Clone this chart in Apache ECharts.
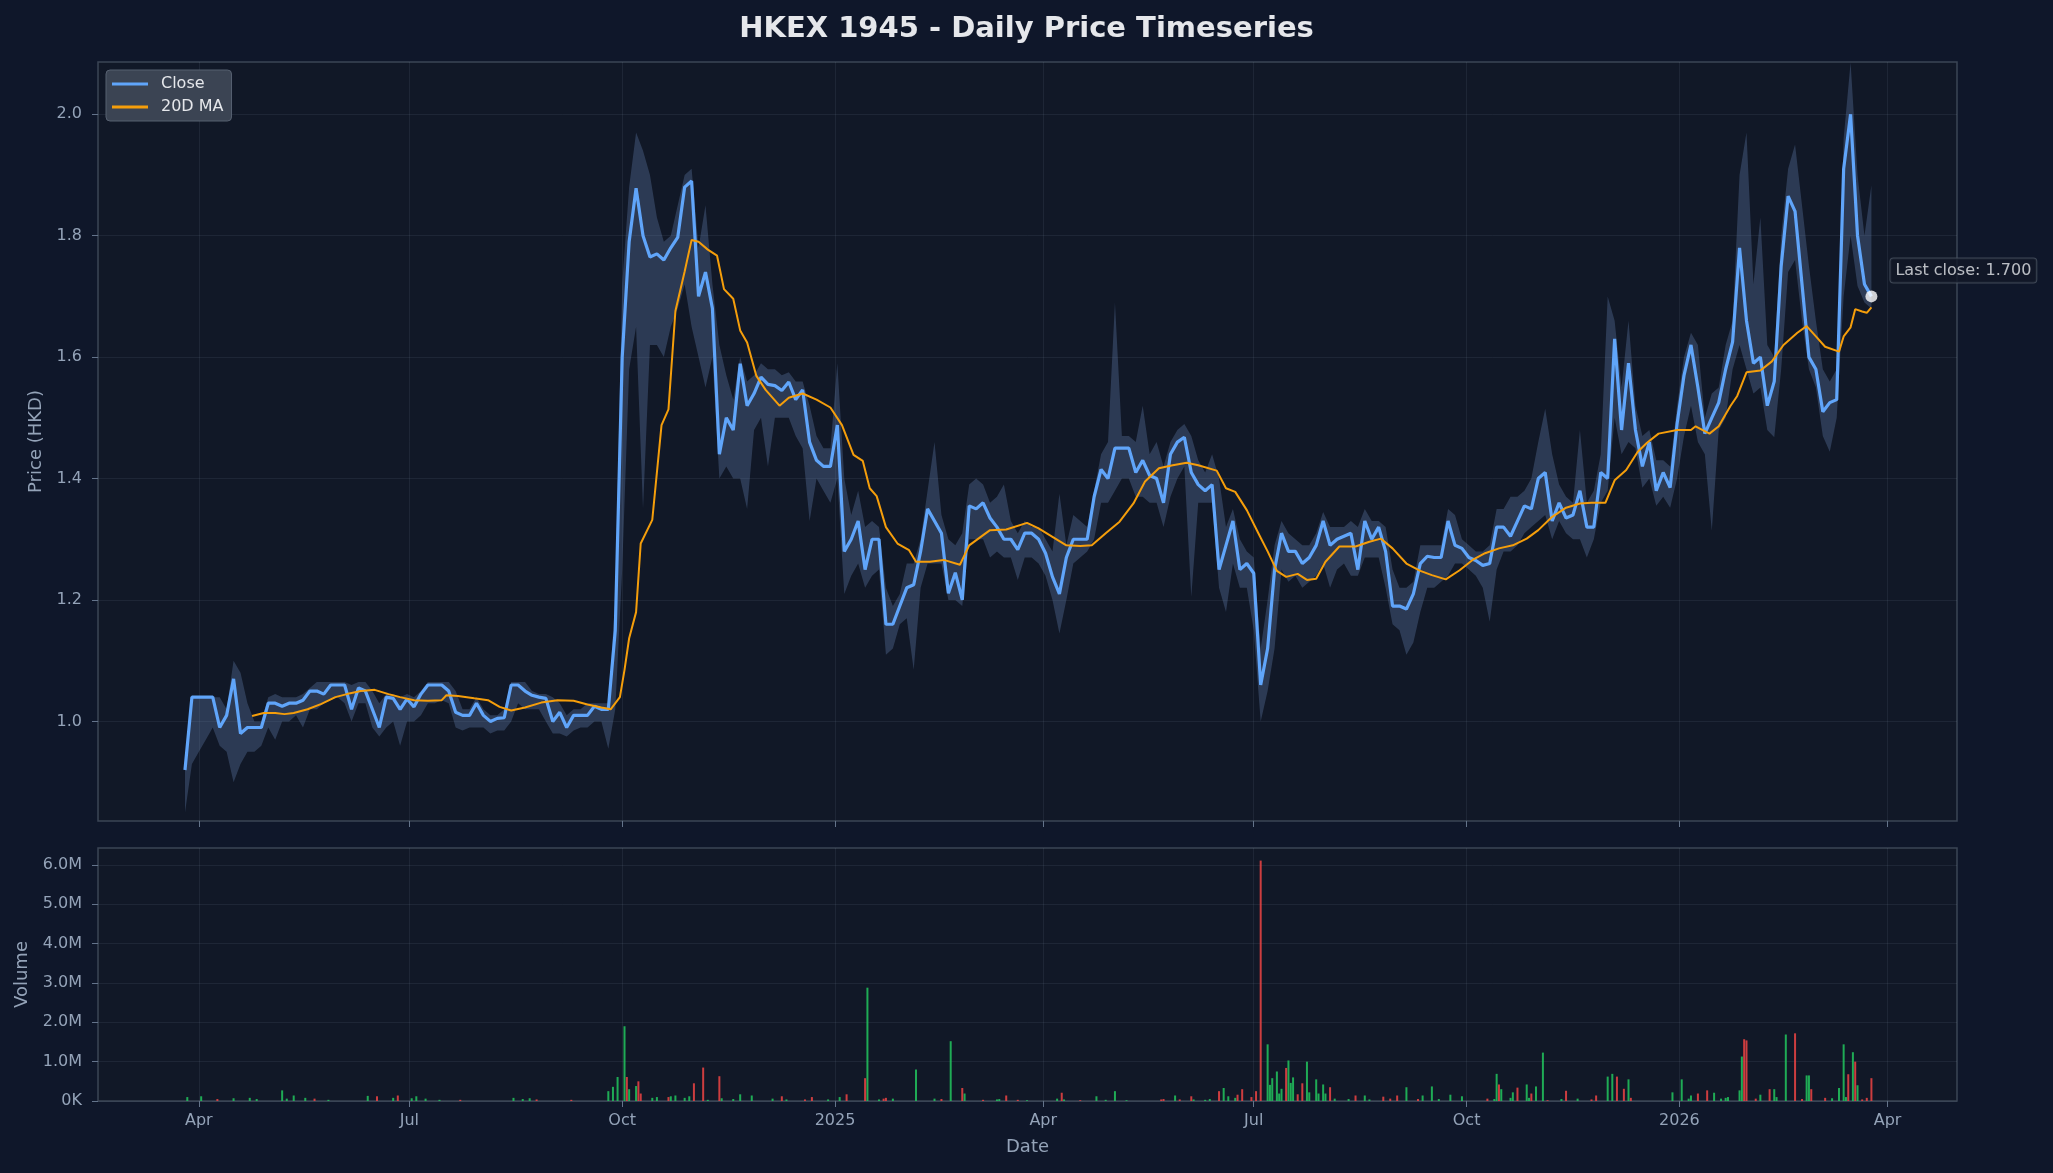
<!DOCTYPE html>
<html>
<head>
<meta charset="utf-8">
<script src="https://cdn.jsdelivr.net/npm/echarts@6/dist/echarts.min.js"></script>
<style>
html,body{margin:0;padding:0;background:#0f172a;}
#chart{width:2053px;height:1173px;}
</style>
</head>
<body>
<div id="chart"></div>
<script>
// ---------- DATA ----------
// Day offsets are counted from 2024-03-25; price samples every 3 days from day 1.
const closeVals = [
 0.92,1.04,1.04,1.04,1.04,0.99,1.01,1.07,0.98,0.99,
 0.99,0.99,1.03,1.03,1.025,1.03,1.03,1.035,1.05,1.05,
 1.045,1.06,1.06,1.06,1.02,1.055,1.05,1.02,0.99,1.04,
 1.038,1.02,1.037,1.024,1.045,1.06,1.06,1.06,1.05,1.015,
 1.01,1.01,1.03,1.01,1.00,1.005,1.006,1.06,1.06,1.05,
 1.043,1.04,1.038,1.00,1.015,0.99,1.01,1.01,1.01,1.025,
 1.02,1.02,1.15,1.60,1.79,1.878,1.80,1.765,1.77,1.76,
 1.78,1.797,1.88,1.89,1.70,1.74,1.68,1.44,1.50,1.48,
 1.589,1.52,1.54,1.567,1.555,1.553,1.545,1.559,1.53,1.546,
 1.46,1.43,1.42,1.42,1.488,1.28,1.30,1.33,1.25,1.30,
 1.30,1.16,1.16,1.19,1.22,1.225,1.28,1.35,1.33,1.31,
 1.211,1.245,1.20,1.355,1.35,1.36,1.335,1.32,1.30,1.30,
 1.283,1.31,1.31,1.30,1.277,1.238,1.21,1.27,1.30,1.30,
 1.30,1.37,1.415,1.40,1.45,1.45,1.45,1.41,1.43,1.405,
 1.40,1.36,1.44,1.46,1.468,1.41,1.39,1.38,1.39,1.25,
 1.29,1.33,1.25,1.26,1.244,1.06,1.12,1.25,1.31,1.28,
 1.28,1.26,1.27,1.29,1.33,1.29,1.30,1.305,1.31,1.25,
 1.33,1.30,1.32,1.28,1.19,1.19,1.185,1.21,1.26,1.272,
 1.27,1.27,1.33,1.29,1.285,1.27,1.265,1.257,1.26,1.32,
 1.32,1.305,1.33,1.355,1.35,1.40,1.41,1.33,1.36,1.335,
 1.34,1.38,1.32,1.32,1.41,1.40,1.63,1.48,1.59,1.48,
 1.42,1.46,1.38,1.41,1.385,1.49,1.57,1.62,1.55,1.474,
 1.50,1.525,1.58,1.625,1.78,1.66,1.59,1.60,1.52,1.56,
 1.75,1.865,1.84,1.72,1.60,1.58,1.51,1.525,1.53,1.91,
 2.00,1.80,1.72,1.70
];
const lowVals = [
 0.85,0.93,0.95,0.97,0.99,0.96,0.95,0.90,0.93,0.95,
 0.95,0.96,0.99,0.97,1.00,1.00,1.01,0.99,1.02,1.02,
 1.03,1.035,1.04,1.03,1.00,1.03,1.03,0.99,0.975,0.99,
 1.00,0.96,1.00,1.00,1.01,1.03,1.03,1.035,1.03,0.99,
 0.985,0.99,0.99,0.99,0.98,0.985,0.985,1.00,1.03,1.02,
 1.02,1.02,1.00,0.98,0.98,0.975,0.985,0.99,0.99,1.00,
 1.00,0.955,1.02,1.25,1.58,1.65,1.35,1.62,1.62,1.60,
 1.65,1.68,1.72,1.65,1.60,1.55,1.60,1.40,1.42,1.40,
 1.40,1.35,1.48,1.50,1.42,1.50,1.50,1.50,1.47,1.45,
 1.33,1.40,1.38,1.36,1.40,1.21,1.24,1.26,1.22,1.24,
 1.25,1.11,1.12,1.16,1.17,1.085,1.22,1.26,1.26,1.26,
 1.20,1.20,1.19,1.30,1.30,1.30,1.27,1.28,1.27,1.27,
 1.233,1.27,1.27,1.26,1.24,1.20,1.145,1.20,1.26,1.27,
 1.28,1.30,1.36,1.36,1.38,1.40,1.40,1.37,1.37,1.36,
 1.36,1.32,1.37,1.40,1.42,1.205,1.36,1.36,1.36,1.22,
 1.18,1.26,1.22,1.22,1.15,1.00,1.05,1.12,1.25,1.23,
 1.24,1.22,1.23,1.24,1.26,1.22,1.25,1.26,1.24,1.24,
 1.27,1.27,1.27,1.22,1.16,1.15,1.11,1.13,1.18,1.22,
 1.22,1.23,1.24,1.26,1.26,1.25,1.24,1.22,1.164,1.25,
 1.28,1.28,1.29,1.31,1.32,1.33,1.34,1.30,1.33,1.31,
 1.30,1.30,1.27,1.30,1.36,1.38,1.50,1.44,1.46,1.45,
 1.385,1.40,1.355,1.37,1.352,1.40,1.47,1.52,1.46,1.44,
 1.314,1.48,1.50,1.58,1.62,1.58,1.54,1.55,1.48,1.468,
 1.58,1.74,1.76,1.66,1.58,1.55,1.47,1.444,1.50,1.70,
 1.80,1.717,1.69,1.68
];
const highVals = [
 0.93,1.04,1.04,1.04,1.04,1.04,1.02,1.10,1.08,1.03,
 1.00,1.00,1.04,1.045,1.04,1.04,1.04,1.045,1.055,1.065,
 1.065,1.065,1.065,1.065,1.06,1.065,1.065,1.05,1.03,1.045,
 1.045,1.04,1.045,1.04,1.05,1.065,1.065,1.065,1.065,1.05,
 1.02,1.02,1.04,1.02,1.01,1.01,1.02,1.065,1.065,1.065,
 1.05,1.045,1.045,1.04,1.03,1.01,1.02,1.02,1.03,1.03,
 1.03,1.03,1.20,1.72,1.88,1.97,1.94,1.90,1.83,1.79,
 1.80,1.85,1.90,1.91,1.78,1.85,1.72,1.62,1.57,1.53,
 1.60,1.56,1.57,1.59,1.58,1.58,1.57,1.575,1.56,1.56,
 1.52,1.47,1.45,1.45,1.59,1.40,1.34,1.38,1.32,1.33,
 1.32,1.22,1.19,1.21,1.26,1.26,1.30,1.38,1.46,1.34,
 1.30,1.29,1.31,1.39,1.40,1.39,1.36,1.37,1.39,1.33,
 1.31,1.33,1.32,1.32,1.30,1.28,1.375,1.29,1.34,1.33,
 1.32,1.38,1.44,1.46,1.69,1.47,1.47,1.46,1.52,1.44,
 1.46,1.42,1.46,1.48,1.49,1.47,1.43,1.41,1.44,1.40,
 1.32,1.35,1.30,1.28,1.27,1.12,1.20,1.29,1.33,1.31,
 1.30,1.29,1.29,1.31,1.345,1.32,1.32,1.32,1.33,1.32,
 1.35,1.33,1.33,1.32,1.25,1.22,1.22,1.23,1.29,1.29,
 1.29,1.29,1.35,1.34,1.30,1.29,1.28,1.28,1.29,1.35,
 1.35,1.37,1.37,1.38,1.40,1.46,1.515,1.44,1.39,1.37,
 1.36,1.48,1.36,1.38,1.44,1.70,1.66,1.55,1.66,1.52,
 1.47,1.48,1.43,1.43,1.42,1.52,1.60,1.64,1.62,1.50,
 1.54,1.55,1.62,1.66,1.90,1.97,1.72,1.83,1.62,1.60,
 1.80,1.91,1.95,1.85,1.75,1.66,1.58,1.56,1.58,1.96,
 2.085,1.90,1.80,1.883
];
// 20-day moving average
const maDays = [30,35,40,44,48,54,60,66,71,77,83,89,94,100,106,112,114,119,126,132,
 137,142,148,155,162,169,175,181,185,189,191,193,196,198,203,207,210,213,217,220,
 223,227,231,234,238,241,244,248,252,258,262,268,274,280,285,290,294,297,300,304,
 309,314,317,323,329,336,340,345,349,356,365,370,376,382,388,393,399,405,411,416,
 422,428,434,439,447,451,455,460,465,469,473,477,482,486,490,494,500,507,513,518,
 523,529,535,540,546,552,558,563,569,575,581,586,592,598,604,609,615,619,624,629,
 633,638,646,652,654,660,664,669,672,676,682,687,692,698,702,706,710,716,718,721,
 723,726,728,730];
const maVals = [1.009,1.014,1.014,1.012,1.014,1.02,1.029,1.04,1.045,1.05,
 1.052,1.045,1.04,1.035,1.034,1.035,1.043,1.042,1.038,1.035,
 1.024,1.018,1.023,1.031,1.035,1.034,1.028,1.023,1.02,1.04,
 1.085,1.137,1.18,1.293,1.332,1.488,1.514,1.676,1.741,1.793,
 1.79,1.777,1.767,1.712,1.696,1.644,1.624,1.569,1.546,1.52,
 1.533,1.54,1.53,1.517,1.488,1.439,1.429,1.384,1.371,1.32,
 1.293,1.282,1.263,1.263,1.266,1.258,1.29,1.304,1.315,1.316,
 1.327,1.318,1.304,1.29,1.289,1.29,1.31,1.329,1.359,1.395,
 1.417,1.422,1.426,1.422,1.413,1.384,1.378,1.348,1.31,1.28,
 1.248,1.238,1.243,1.233,1.235,1.263,1.288,1.288,1.296,1.301,
 1.285,1.26,1.248,1.241,1.234,1.249,1.267,1.277,1.285,1.29,
 1.301,1.315,1.337,1.352,1.359,1.36,1.36,1.397,1.414,1.444,
 1.459,1.474,1.48,1.48,1.486,1.474,1.486,1.519,1.536,1.575,
 1.578,1.593,1.62,1.64,1.651,1.634,1.617,1.609,1.634,1.649,
 1.679,1.675,1.673,1.682];
// Volume (millions of shares) on visible bars; up=1 green, 0 red
const volDays = [2,8,15,22,29,32,43,45,48,53, 57,63,80,84,91,93,99,101,105,111,
 120,143,147,150,153,168,184,186,188,191, 192,193,196,197,198,203,205,210,211,213,
 217,219,221,225,227,232,233,238,241,246, 255,259,261,269,272,279,284,287,295,296,
 301,303,304,307,317,325,328,332,337,338, 346,352,
 353,356,361,365,378,380,381,388,395,399, 403,408,423,424,429,431,436,437,442,444,
 448,450,452,455,456,458,462,464,466,469, 470,471,473,474,475,477,478,479,480,482,
 484,486,487,490,491,493,494,496,498,504, 507,511,513,519,522,525,529,534,536,540,
 543,548,553,564,567,568,569,570,574,575, 577,581,582,583,585,588,590,596,598,603,
 609,611,616,618,620,623,625,626,644,648, 651,652,655,659,662,665,667,668,673,674,
 675,676,680,682,686,688,689,693,697,700, 702,703,704,710,713,716,718,719,720,722,
 723,724,726,728,730];
const volM = [.10,.12,.05,.07,.08,.05,.27,.06,.14,.08, .06,.03,.13,.12,.08,.14,.07,.12,.06,.03,
 .03,.08,.05,.07,.04,.03,.25,.36,.61,1.90, .61,.30,.38,.50,.19,.08,.10,.10,.12,.14,
 .08,.12,.45,.85,.03,.63,.07,.05,.17,.14, .06,.12,.04,.04,.10,.04,.10,.17,.58,2.88,
 .04,.06,.08,.06,.80,.06,.05,1.52,.33,.19, .03,.04,
 .05,.14,.03,.02,.06,.21,.04,.02,.12,.03, .25,.02,.04,.05,.14,.04,.12,.04,.03,.05,
 .25,.33,.12,.08,.16,.30,.10,.25,6.11,1.44, .41,.58,.75,.19,.31,.84,1.03,.46,.60,.17,
 .45,1.00,.22,.55,.19,.42,.19,.35,.06,.05, .14,.14,.04,.11,.06,.14,.35,.05,.14,.37,
 .05,.16,.12,.06,.05,.69,.42,.30,.08,.22, .34,.42,.08,.19,.37,1.23,.02,.05,.26,.06,
 .04,.14,.62,.69,.62,.31,.55,.08,.22,.55, .06,.14,.19,.27,.21,.06,.08,.10,.27,1.13,
 1.57,1.54,.06,.16,.30,.30,.10,1.69,1.72,.05, .65,.65,.30,.08,.07,.33,1.44,.10,.68,1.24,
 1.00,.40,.04,.08,.58];
const volUp = [1,1,0,1,1,1,1,1,1,1, 0,1,1,0,1,0,1,1,1,1,
 0,1,1,1,0,0,1,1,1,1, 0,1,1,0,0,1,1,0,1,1,
 1,1,0,0,1,0,1,1,1,1, 1,0,1,0,0,1,1,0,0,1,
 1,0,0,1,1,1,0,1,0,1, 0,1,
 1,0,0,1,1,0,1,0,1,1, 1,1,0,0,1,0,0,1,1,1,
 0,1,1,1,0,0,0,0,0,1, 1,1,1,1,1,0,1,1,1,0,
 0,1,1,1,1,1,1,0,1,1, 0,1,1,0,0,0,1,0,1,1,
 1,1,1,0,1,1,0,1,1,1, 0,1,1,0,1,1,0,1,0,1,
 0,0,1,1,0,0,1,0,1,1, 1,1,0,0,1,1,1,1,1,1,
 0,0,0,1,0,1,1,1,0,0, 1,1,0,0,1,1,1,1,0,1,
 0,1,0,0,0];
const tickDates = ['2024-04-01','2024-07-01','2024-10-01','2025-01-01','2025-04-01','2025-07-01','2025-10-01','2026-01-01','2026-04-01'];
const tickLabels = ['Apr','Jul','Oct','2025','Apr','Jul','Oct','2026','Apr'];
const priceTicks = [1.0,1.2,1.4,1.6,1.8,2.0];
const volTicks = [0,1,2,3,4,5,6];
const volTickLabels = ['0K','1.0M','2.0M','3.0M','4.0M','5.0M','6.0M'];

// ---------- helpers ----------
const DAY = 86400000;
const START = new Date(2024, 2, 25).getTime();
const dt = d => START + d * DAY;
const closeDays = closeVals.map((_, i) => 1 + 3 * i);
const tickTimes = tickDates.map(s => { const p = s.split('-').map(Number); return new Date(p[0], p[1]-1, p[2]).getTime(); });
const xLabel = v => { for (let k = 0; k < tickTimes.length; k++) if (Math.abs(tickTimes[k] - v) < DAY) return tickLabels[k]; return ''; };

const closeData = closeVals.map((v, i) => [dt(closeDays[i]), v]);
const bandData = closeDays.map((d, i) => [dt(d), lowVals[i], highVals[i]]);
const maData = maVals.map((v, k) => [dt(maDays[k]), v]);
const upData = [], downData = [];
volDays.forEach((d, k) => (volUp[k] ? upData : downData).push([dt(d), volM[k]]));
const lastIdx = closeVals.length - 1;

const FONT = 'DejaVu Sans';
const TXT = '#94a3b8';
const GRIDC = 'rgba(148,163,184,0.10)';
const xMin = dt(-36.6), xMax = dt(767);

function renderBand(params, api) {
  if (params.dataIndex !== 0) return {type: 'group', children: []};
  const pts = [];
  for (let i = 0; i < bandData.length; i++) pts.push(api.coord([bandData[i][0], bandData[i][2]]));
  for (let i = bandData.length - 1; i >= 0; i--) pts.push(api.coord([bandData[i][0], bandData[i][1]]));
  return {type: 'polygon', shape: {points: pts}, style: {fill: 'rgba(110,140,190,0.30)', stroke: 'none'}};
}

const chart = echarts.init(document.getElementById('chart'), null, {renderer: 'canvas'});
chart.setOption({
  animation: false,
  backgroundColor: '#0f172a',
  textStyle: {fontFamily: FONT},
  title: {
    text: 'HKEX 1945 - Daily Price Timeseries', left: 'center', top: 15, padding: 0,
    textStyle: {color: '#e5e7eb', fontSize: 29, fontWeight: 'bold', fontFamily: FONT}
  },
  legend: {
    data: ['Close', '20D MA'], orient: 'vertical', left: 106, top: 70,
    backgroundColor: '#3b4453', borderColor: '#566070', borderWidth: 1, borderRadius: 4,
    padding: [6, 8, 6, 6], itemGap: 7, itemWidth: 36, itemHeight: 3, icon: 'rect',
    textStyle: {color: '#e5e7eb', fontSize: 16, fontFamily: FONT, padding: [0, 0, 0, 8]}
  },
  grid: [
    {left: 98, top: 62, width: 1859, height: 759, show: true, backgroundColor: '#111827', borderColor: '#3b4556', borderWidth: 1.5},
    {left: 98, top: 848, width: 1859, height: 253, show: true, backgroundColor: '#111827', borderColor: '#3b4556', borderWidth: 1.5}
  ],
  xAxis: [
    {type: 'value', gridIndex: 0, min: xMin, max: xMax, scale: true,
     axisLine: {show: false},
     axisTick: {show: true, length: 6, lineStyle: {color: '#64748b'}, customValues: tickTimes},
     axisLabel: {show: false, customValues: tickTimes},
     splitLine: {show: true, lineStyle: {color: GRIDC, width: 1}}},
    {type: 'value', gridIndex: 1, min: xMin, max: xMax, scale: true,
     axisLine: {show: false},
     axisTick: {show: true, length: 6, lineStyle: {color: '#64748b'}, customValues: tickTimes},
     axisLabel: {show: true, customValues: tickTimes, formatter: xLabel, color: TXT, fontSize: 16, fontFamily: FONT, margin: 12},
     splitLine: {show: true, lineStyle: {color: GRIDC, width: 1}},
     name: 'Date', nameLocation: 'middle', nameGap: 37,
     nameTextStyle: {color: TXT, fontSize: 18, fontFamily: FONT}}
  ],
  yAxis: [
    {type: 'value', gridIndex: 0, min: 0.836, max: 2.086,
     axisLine: {show: false},
     axisTick: {show: true, length: 6, lineStyle: {color: '#64748b'}, customValues: priceTicks},
     axisLabel: {customValues: priceTicks, formatter: v => v.toFixed(1), color: TXT, fontSize: 16, fontFamily: FONT, margin: 16},
     splitLine: {show: true, lineStyle: {color: GRIDC, width: 1}},
     name: 'Price (HKD)', nameLocation: 'middle', nameGap: 50,
     nameTextStyle: {color: TXT, fontSize: 18, fontFamily: FONT}},
    {type: 'value', gridIndex: 1, min: 0, max: 6.43,
     axisLine: {show: false},
     axisTick: {show: true, length: 6, lineStyle: {color: '#64748b'}, customValues: volTicks},
     axisLabel: {customValues: volTicks, formatter: v => volTickLabels[Math.round(v)] || '', color: TXT, fontSize: 16, fontFamily: FONT, margin: 16},
     splitLine: {show: true, lineStyle: {color: GRIDC, width: 1}},
     name: 'Volume', nameLocation: 'middle', nameGap: 67,
     nameTextStyle: {color: TXT, fontSize: 18, fontFamily: FONT}}
  ],
  series: [
    {name: 'band', type: 'custom', xAxisIndex: 0, yAxisIndex: 0, data: bandData,
     encode: {x: 0, y: [1, 2]}, renderItem: renderBand, silent: true, clip: true, z: 1},
    {name: 'Close', type: 'line', xAxisIndex: 0, yAxisIndex: 0, data: closeData, symbol: 'none',
     itemStyle: {color: '#60a5fa'}, lineStyle: {color: '#60a5fa', width: 3.2}, z: 3},
    {name: '20D MA', type: 'line', xAxisIndex: 0, yAxisIndex: 0, data: maData, symbol: 'none',
     itemStyle: {color: '#f59e0b'}, lineStyle: {color: '#f59e0b', width: 2}, z: 4},
    {name: 'last', type: 'scatter', xAxisIndex: 0, yAxisIndex: 0,
     data: [[dt(closeDays[lastIdx]), closeVals[lastIdx]]], symbolSize: 12,
     itemStyle: {color: '#ffffff'}, z: 5,
     label: {show: true, position: [25, -32], formatter: p => 'Last close: ' + p.value[1].toFixed(3),
       color: '#e5e7eb', fontSize: 16, fontFamily: FONT, backgroundColor: '#111827',
       borderColor: '#4b5563', borderWidth: 1, borderRadius: 3, padding: [4, 5]}},
    {name: 'volUp', type: 'bar', xAxisIndex: 1, yAxisIndex: 1, data: upData, barWidth: 2, barGap: '-100%',
     itemStyle: {color: '#22c55e', opacity: 0.85}},
    {name: 'volDown', type: 'bar', xAxisIndex: 1, yAxisIndex: 1, data: downData, barWidth: 2, barGap: '-100%',
     itemStyle: {color: '#ef4444', opacity: 0.85}}
  ]
});
</script>
</body>
</html>
